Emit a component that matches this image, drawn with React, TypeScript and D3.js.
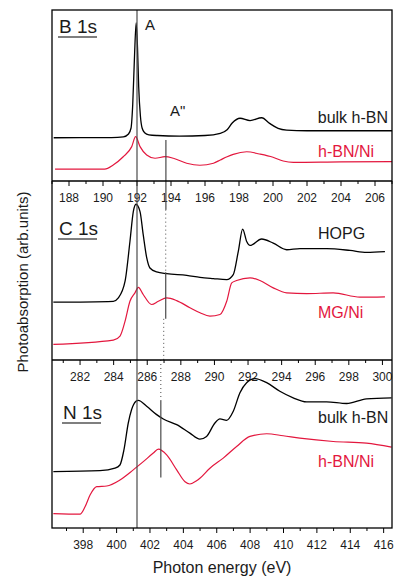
import React from "react";
import * as d3 from "d3";

const W = 401;
const H = 577;
const LEFT = 52;
const RIGHT = 392;
const FONT = "'Liberation Sans', Arial, sans-serif";
const RED = "#e3173e";
const INK = "#1b1b1b";

// B 1s panel
const bBulkE = [187.1, 190.5, 191.2, 191.5, 191.65, 191.75, 191.85, 191.95, 192.03, 192.1, 192.2, 192.3, 192.45, 192.7, 193.2, 194.5, 196.0, 196.9, 197.3, 197.6, 198.06, 198.65, 199.34, 199.8, 200.3, 200.8, 202.0, 207.0];
const bBulkI = [25.3, 25.4, 25.8, 27.5, 31, 45, 72, 92.4, 78, 55, 38, 31, 28.2, 27.0, 26.6, 26.3, 26.6, 27.9, 30.0, 33.9, 36.7, 35.3, 37.0, 33.7, 30.8, 29.8, 29.4, 29.4];
const bNiE = [187.18, 190.1, 190.6, 191.19, 191.69, 191.92, 192.18, 192.57, 193.06, 193.65, 194.14, 194.92, 195.7, 196.5, 196.9, 197.3, 197.66, 198.45, 199.2, 200.0, 200.6, 201.2, 204.0, 207.0];
const bNiI = [7.0, 7.0, 9.4, 14.2, 20.1, 25.9, 20.1, 15.2, 13.3, 14.2, 13.3, 10.4, 9.2, 10.4, 12.3, 14.2, 15.6, 17.1, 15.8, 13.9, 11.7, 10.9, 11.2, 11.3];
const bTicks = [188, 190, 192, 194, 196, 198, 200, 202, 204, 206];

// C 1s panel
const cHopgE = [280.41, 283.98, 284.28, 284.68, 284.97, 285.17, 285.33, 285.57, 285.76, 285.97, 286.16, 286.56, 287.16, 288.35, 289.14, 289.93, 290.73, 291.12, 291.42, 291.68, 291.92, 292.12, 292.81, 293.5, 294.3, 295.09, 296.68, 298.07, 299.06, 300.15];
const cHopgI = [32.3, 32.8, 34.7, 44.0, 66.2, 82.9, 87.0, 82.9, 70.0, 57.0, 51.4, 49.2, 48.2, 47.3, 46.2, 45.5, 44.9, 47.7, 60.7, 73.1, 66.2, 64.0, 67.6, 65.3, 61.6, 62.2, 62.2, 61.2, 60.1, 60.5];
const cNiE = [280.41, 283.98, 284.38, 284.68, 284.97, 285.27, 285.47, 285.76, 286.26, 286.66, 287.16, 287.75, 288.54, 289.14, 289.73, 290.33, 290.73, 291.03, 291.32, 292.12, 292.71, 293.5, 294.3, 295.49, 297.07, 298.66, 300.15];
const cNiI = [8.7, 11.1, 13.4, 21.7, 32.8, 37.5, 40.6, 36.6, 31.0, 32.8, 34.7, 33.2, 29.2, 26.4, 24.5, 25.4, 32.8, 43.1, 44.4, 45.9, 44.4, 40.3, 37.5, 37.1, 37.5, 35.1, 35.3];
const cTicks = [282, 284, 286, 288, 290, 292, 294, 296, 298, 300];

// N 1s panel
const nBulkE = [396.21, 399.0, 399.9, 400.2, 400.44, 400.7, 400.9, 401.16, 401.3, 401.8, 402.4, 402.8, 403.6, 404.39, 404.99, 405.39, 405.89, 406.19, 406.59, 406.99, 407.39, 407.79, 408.29, 408.99, 409.78, 410.58, 411.38, 412.58, 413.78, 414.97, 416.47];
const nBulkI = [33.5, 34.1, 35.6, 37.5, 46.5, 62.5, 70.5, 75.4, 76.0, 72.5, 67.5, 64.9, 61.5, 56.5, 52.9, 54.5, 62.5, 64.9, 64.1, 69.5, 80.5, 86.5, 88.9, 86.5, 81.4, 77.5, 75.1, 75.1, 74.1, 76.9, 77.5];
const nNiE = [396.21, 397.81, 398.11, 398.41, 398.81, 399.41, 400.2, 401.0, 401.6, 402.2, 402.5, 403.0, 403.6, 404.1, 404.39, 404.79, 404.99, 405.59, 406.39, 407.19, 407.99, 408.99, 409.98, 410.98, 412.98, 414.97, 416.47];
const nNiI = [8.6, 8.2, 12.6, 19.6, 24.6, 25.0, 28.6, 34.6, 39.5, 44.6, 46.9, 43.5, 34.6, 27.5, 26.2, 28.1, 29.6, 35.6, 41.6, 48.5, 54.5, 56.1, 54.9, 53.5, 51.5, 50.5, 48.1];
const nTicks = [398, 400, 402, 404, 406, 408, 410, 412, 414, 416];

// guide lines (eV)
const lineA = 192;
const lineA2 = [193.7, 287.1, 402.65];

const zip = (e: number[], v: number[]) => e.map((x, i) => [x, v[i]] as [number, number]);

const panels = [
  {
    name: "B 1s", top: 10, bottom: 181, domain: [187.0, 207.0], ticks: bTicks,
    black: zip(bBulkE, bBulkI), red: zip(bNiE, bNiI),
    blackLabel: "bulk h-BN", redLabel: "h-BN/Ni",
    nameY: 33, blackY: 123, redY: 157, blackEnd: true,
  },
  {
    name: "C 1s", top: 181, bottom: 360, domain: [280.33, 300.57], ticks: cTicks,
    black: zip(cHopgE, cHopgI), red: zip(cNiE, cNiI),
    blackLabel: "HOPG", redLabel: "MG/Ni",
    nameY: 235, blackY: 239, redY: 318, blackEnd: false,
  },
  {
    name: "N 1s", top: 360, bottom: 528, domain: [396.13, 416.5], ticks: nTicks,
    black: zip(nBulkE, nBulkI), red: zip(nNiE, nNiI),
    blackLabel: "bulk h-BN", redLabel: "h-BN/Ni",
    nameY: 419, blackY: 423, redY: 467, blackEnd: false,
  },
];

function Panel({ p, idx }: { p: any; idx: number }) {
  const x = d3.scaleLinear().domain(p.domain).range([LEFT, RIGHT]);
  const y = d3.scaleLinear().domain([0, 100]).range([p.bottom, p.top]);
  const line = d3.line<[number, number]>()
    .x(d => x(d[0]))
    .y(d => y(d[1]))
    .curve(d3.curveMonotoneX);
  const minor = d3.range(Math.ceil(p.domain[0]), Math.floor(p.domain[1]) + 1);
  const nameX = idx === 2 ? 63 : 59;

  return (
    <g>
      <path d={line(p.black) || ""} fill="none" stroke="#000" strokeWidth={1.3} />
      <path d={line(p.red) || ""} fill="none" stroke={RED} strokeWidth={1.2} />

      {/* ticks hang below the panel bottom, labels sit in the next panel */}
      {minor.map((t: number) => {
        const major = p.ticks.includes(t);
        return (
          <line key={t} x1={x(t)} x2={x(t)} y1={p.bottom} y2={p.bottom + (major ? 5 : 3)}
            stroke="#000" strokeWidth={1} />
        );
      })}
      {p.ticks.map((t: number) => (
        <text key={"l" + t} x={x(t)} y={p.bottom + 20.5} textAnchor="middle"
          fontSize={12} fill={INK}>{t}</text>
      ))}

      <text x={nameX} y={p.nameY} fontSize={19} fill={INK}>{p.name}</text>
      <line x1={nameX - 1} x2={nameX + 38} y1={p.nameY + 4} y2={p.nameY + 4} stroke="#000" strokeWidth={1.2} />

      <text x={p.blackEnd ? 388 : 318} y={p.blackY} textAnchor={p.blackEnd ? "end" : "start"}
        fontSize={16} fill={INK}>{p.blackLabel}</text>
      <text x={318} y={p.redY} fontSize={16} fill={RED}>{p.redLabel}</text>
    </g>
  );
}

export default function App() {
  const [p1, p2, p3] = panels;
  const x1 = d3.scaleLinear().domain(p1.domain).range([LEFT, RIGHT]);
  const x2 = d3.scaleLinear().domain(p2.domain).range([LEFT, RIGHT]);
  const x3 = d3.scaleLinear().domain(p3.domain).range([LEFT, RIGHT]);
  const y1 = d3.scaleLinear().domain([0, 100]).range([p1.bottom, p1.top]);
  const y2 = d3.scaleLinear().domain([0, 100]).range([p2.bottom, p2.top]);
  const y3 = d3.scaleLinear().domain([0, 100]).range([p3.bottom, p3.top]);
  const guide = "#4a4a4a";

  return (
    <svg width={W} height={H} style={{ position: "absolute", left: 0, top: 0, background: "#fff" }}
      fontFamily={FONT}>
      <rect x={0} y={0} width={W} height={H} fill="#fff" />
      {panels.map((p, i) => <Panel key={p.name} p={p} idx={i} />)}

      {/* resonance A through all panels */}
      <line x1={x1(lineA)} x2={x1(lineA)} y1={p1.top} y2={p3.bottom} stroke={guide} strokeWidth={1.2} />

      {/* A'' guide */}
      <line x1={x1(lineA2[0])} x2={x1(lineA2[0])} y1={y1(24)} y2={y2(84)} stroke={guide} strokeWidth={1.2} />
      <line x1={x2(lineA2[1])} x2={x2(lineA2[1])} y1={y2(84)} y2={y2(49)} stroke={guide} strokeWidth={1} strokeDasharray="1 3" />
      <line x1={x2(lineA2[1])} x2={x2(lineA2[1])} y1={y2(49)} y2={y2(23)} stroke={guide} strokeWidth={1.2} />
      <line x1={x2(lineA2[1]) - 2} x2={x2(lineA2[1]) - 2} y1={y2(23)} y2={y2(0)} stroke={guide} strokeWidth={1} strokeDasharray="1 3" />
      <line x1={x3(lineA2[2])} x2={x3(lineA2[2])} y1={y3(100)} y2={y3(76)} stroke={guide} strokeWidth={1} strokeDasharray="1 3" />
      <line x1={x3(lineA2[2])} x2={x3(lineA2[2])} y1={y3(76)} y2={y3(30)} stroke={guide} strokeWidth={1.2} />

      <text x={145} y={30} fontSize={15} fill={INK}>A</text>
      <text x={170} y={116} fontSize={15} fill={INK}>A"</text>

      {/* frame */}
      <rect x={LEFT} y={p1.top} width={RIGHT - LEFT} height={p3.bottom - p1.top} fill="none" stroke="#000" strokeWidth={1.3} />
      <line x1={LEFT} x2={RIGHT} y1={p1.bottom} y2={p1.bottom} stroke="#000" strokeWidth={1.3} />
      <line x1={LEFT} x2={RIGHT} y1={p2.bottom} y2={p2.bottom} stroke="#000" strokeWidth={1.3} />

      <text x={222} y={573} textAnchor="middle" fontSize={16} fill={INK}>Photon energy (eV)</text>
      <text transform="translate(28,282) rotate(-90)" textAnchor="middle" fontSize={15} fill={INK}>
        Photoabsorption (arb.units)
      </text>
    </svg>
  );
}
